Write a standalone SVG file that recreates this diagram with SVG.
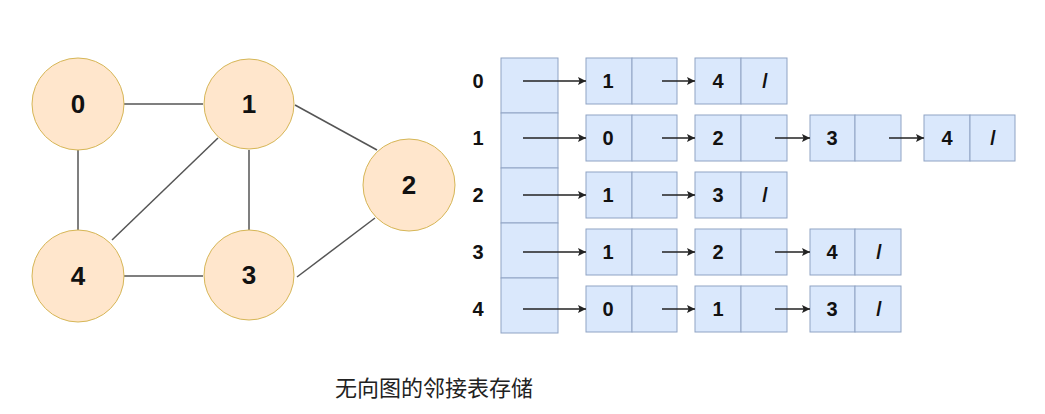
<svg xmlns="http://www.w3.org/2000/svg" width="1045" height="414" viewBox="0 0 1045 414">
<style>
.v{fill:#ffe6cc;stroke:#d6b656;stroke-width:1}
.vt{font-family:"Liberation Sans",Arial,sans-serif;font-weight:bold;font-size:26px;fill:#111;text-anchor:middle;dominant-baseline:central}
.e{stroke:#555;stroke-width:1.5;fill:none}
.c{fill:#dae8fc;stroke:#8fa3c4;stroke-width:1}
.t{font-family:"Liberation Sans",Arial,sans-serif;font-weight:bold;font-size:20px;fill:#111;text-anchor:middle;dominant-baseline:central}
.a{stroke:#222;stroke-width:1.3;fill:none;marker-end:url(#ah)}
.cap{font-family:"Noto Sans CJK SC","Noto Sans",sans-serif;font-size:22px;fill:#222}
</style>
<defs>
<marker id="ah" viewBox="0 0 10 10" refX="10" refY="5" markerWidth="8" markerHeight="8" markerUnits="userSpaceOnUse" orient="auto">
<path d="M0,0 L10,5 L0,10 L2,5 Z" fill="#222"/>
</marker>
</defs>
<rect width="1045" height="414" fill="#ffffff"/>
<g id="edges">
<line class="e" x1="124" y1="104" x2="203" y2="104"/>
<line class="e" x1="78" y1="150" x2="78" y2="230"/>
<line class="e" x1="249" y1="150" x2="249" y2="230"/>
<line class="e" x1="124" y1="276" x2="203" y2="276"/>
<line class="e" x1="218" y1="138" x2="112" y2="240"/>
<line class="e" x1="295" y1="105" x2="377" y2="150"/>
<line class="e" x1="375" y1="218" x2="297" y2="277"/>
</g>
<g id="v0"><circle class="v" cx="78" cy="104" r="46"/><text class="vt" x="78" y="104">0</text></g>
<g id="v1"><circle class="v" cx="249" cy="104" r="45"/><text class="vt" x="249" y="104">1</text></g>
<g id="v2"><circle class="v" cx="409" cy="185" r="46"/><text class="vt" x="409" y="185">2</text></g>
<g id="v3"><circle class="v" cx="249" cy="275" r="45"/><text class="vt" x="249" y="275">3</text></g>
<g id="v4"><circle class="v" cx="78" cy="276" r="46"/><text class="vt" x="78" y="276">4</text></g>
<g id="head">
<rect class="c" x="501" y="58" width="57" height="55"/>
<rect class="c" x="501" y="113" width="57" height="55"/>
<rect class="c" x="501" y="168" width="57" height="55"/>
<rect class="c" x="501" y="223" width="57" height="55"/>
<rect class="c" x="501" y="278" width="57" height="55"/>
<text class="t" x="478" y="81">0</text>
<text class="t" x="478" y="138">1</text>
<text class="t" x="478" y="195">2</text>
<text class="t" x="478" y="252">3</text>
<text class="t" x="478" y="309">4</text>
</g>
<g id="r0n1"><rect class="c" x="586" y="58" width="46" height="46"/><rect class="c" x="632" y="58" width="45" height="46"/><text class="t" x="608" y="81">1</text></g>
<g id="r0n2"><rect class="c" x="695" y="58" width="46" height="46"/><rect class="c" x="741" y="58" width="46" height="46"/><text class="t" x="718" y="81">4</text><text class="t" x="765" y="81">/</text></g>
<g id="r1n1"><rect class="c" x="586" y="115" width="46" height="46"/><rect class="c" x="632" y="115" width="45" height="46"/><text class="t" x="608" y="138">0</text></g>
<g id="r1n2"><rect class="c" x="695" y="115" width="46" height="46"/><rect class="c" x="741" y="115" width="46" height="46"/><text class="t" x="718" y="138">2</text></g>
<g id="r1n3"><rect class="c" x="810" y="115" width="45" height="46"/><rect class="c" x="855" y="115" width="46" height="46"/><text class="t" x="832" y="138">3</text></g>
<g id="r1n4"><rect class="c" x="924" y="115" width="46" height="46"/><rect class="c" x="970" y="115" width="45" height="46"/><text class="t" x="947" y="138">4</text><text class="t" x="993" y="138">/</text></g>
<g id="r2n1"><rect class="c" x="586" y="172" width="46" height="46"/><rect class="c" x="632" y="172" width="45" height="46"/><text class="t" x="608" y="195">1</text></g>
<g id="r2n2"><rect class="c" x="695" y="172" width="46" height="46"/><rect class="c" x="741" y="172" width="46" height="46"/><text class="t" x="718" y="195">3</text><text class="t" x="765" y="195">/</text></g>
<g id="r3n1"><rect class="c" x="586" y="229" width="46" height="46"/><rect class="c" x="632" y="229" width="45" height="46"/><text class="t" x="608" y="252">1</text></g>
<g id="r3n2"><rect class="c" x="695" y="229" width="46" height="46"/><rect class="c" x="741" y="229" width="46" height="46"/><text class="t" x="718" y="252">2</text></g>
<g id="r3n3"><rect class="c" x="810" y="229" width="45" height="46"/><rect class="c" x="855" y="229" width="46" height="46"/><text class="t" x="832" y="252">4</text><text class="t" x="879" y="252">/</text></g>
<g id="r4n1"><rect class="c" x="586" y="286" width="46" height="46"/><rect class="c" x="632" y="286" width="45" height="46"/><text class="t" x="608" y="309">0</text></g>
<g id="r4n2"><rect class="c" x="695" y="286" width="46" height="46"/><rect class="c" x="741" y="286" width="46" height="46"/><text class="t" x="718" y="309">1</text></g>
<g id="r4n3"><rect class="c" x="810" y="286" width="45" height="46"/><rect class="c" x="855" y="286" width="46" height="46"/><text class="t" x="832" y="309">3</text><text class="t" x="879" y="309">/</text></g>
<g id="arrows">
<line class="a" x1="523" y1="81" x2="586" y2="81"/>
<line class="a" x1="662" y1="81" x2="695" y2="81"/>
<line class="a" x1="523" y1="138" x2="586" y2="138"/>
<line class="a" x1="662" y1="138" x2="695" y2="138"/>
<line class="a" x1="775" y1="138" x2="810" y2="138"/>
<line class="a" x1="889" y1="138" x2="924" y2="138"/>
<line class="a" x1="523" y1="195" x2="586" y2="195"/>
<line class="a" x1="662" y1="195" x2="695" y2="195"/>
<line class="a" x1="523" y1="252" x2="586" y2="252"/>
<line class="a" x1="662" y1="252" x2="695" y2="252"/>
<line class="a" x1="775" y1="252" x2="810" y2="252"/>
<line class="a" x1="523" y1="309" x2="586" y2="309"/>
<line class="a" x1="662" y1="309" x2="695" y2="309"/>
<line class="a" x1="775" y1="309" x2="810" y2="309"/>
</g>
<text class="cap" x="335" y="396">无向图的邻接表存储</text>
</svg>
